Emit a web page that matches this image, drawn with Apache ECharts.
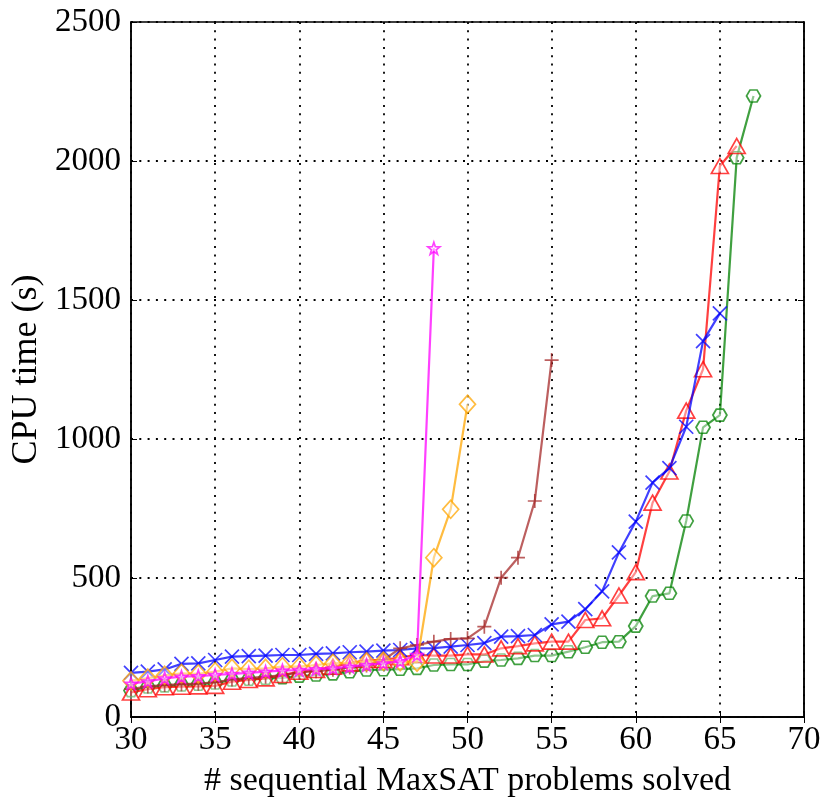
<!DOCTYPE html>
<html>
<head>
<meta charset="utf-8">
<script src="https://cdn.jsdelivr.net/npm/echarts@6/dist/echarts.min.js"></script>
<style>
  html, body { margin: 0; padding: 0; background: #fff; }
  #chart { width: 823px; height: 797px; }
</style>
</head>
<body>
<div id="chart"></div>
<script>
// Number of problems solved (x) vs cumulative CPU time (y) for six solvers
const xStart = 30;
const blueTimes = [159, 163, 171, 191, 193, 205, 217, 219, 221, 223, 223, 227, 229, 233, 235, 239, 241, 247, 248, 253, 259, 266, 289, 291, 295, 333, 343, 388, 452, 592, 703, 843, 895, 1044, 1352, 1452];
const redTimes = [88, 100, 107, 109, 110, 112, 127, 133, 139, 151, 163, 169, 181, 193, 205, 205, 215, 223, 221, 221, 225, 225, 247, 255, 265, 271, 271, 349, 355, 437, 521, 771, 883, 1102, 1251, 1982, 2054];
const greenTimes = [95, 108, 112, 115, 118, 122, 133, 136, 139, 141, 147, 151, 155, 163, 169, 170, 172, 175, 187, 189, 189, 201, 205, 211, 221, 221, 235, 251, 269, 271, 327, 435, 445, 705, 1042, 1086, 2012, 2234];
const brownTimes = [100, 110, 115, 118, 120, 125, 135, 140, 145, 150, 160, 165, 170, 178, 185, 205, 247, 259, 271, 281, 283, 325, 501, 573, 777, 1284];
const orangeTimes = [130, 140, 150, 157, 155, 163, 175, 172, 175, 181, 181, 187, 193, 195, 199, 201, 199, 197, 573, 747, 1125];
const magentaTimes = [120, 128, 139, 145, 147, 151, 155, 159, 163, 167, 169, 172, 175, 181, 187, 193, 200, 223, 1686];

const xTicks = [30, 35, 40, 45, 50, 55, 60, 65, 70];
const yTicks = [0, 500, 1000, 1500, 2000, 2500];

function toPoints(values) {
  return values.map((v, i) => [xStart + i, v]);
}

// Marker outlines
const SYM_X = 'path://M0,0 L10,10 M10,0 L0,10';
const SYM_PLUS = 'path://M5,0 L5,10 M0,5 L10,5';
const SYM_HEX = 'path://M20,10 L15,18.66 L5,18.66 L0,10 L5,1.34 L15,1.34 Z';
const SYM_STAR = 'path://M10,0 L12.35,6.76 L19.51,6.91 L13.8,11.24 L15.88,18.09 L10,14 L4.12,18.09 L6.2,11.24 L0.49,6.91 L7.65,6.76 Z';

function lineSeries(name, values, color, symbol, size, filled, z) {
  return {
    name: name,
    type: 'line',
    data: toPoints(values),
    symbol: symbol,
    symbolSize: size,
    showSymbol: true,
    z: z,
    lineStyle: { color: color, width: 2.2, opacity: 0.75 },
    itemStyle: {
      color: filled ? 'rgba(255,255,255,0.55)' : 'none',
      borderColor: color,
      borderWidth: 1.7,
      opacity: 0.75
    },
    emphasis: { disabled: true },
    animation: false
  };
}

const serif = '"Liberation Serif", "DejaVu Serif", serif';
const dotted = { color: '#000', width: 1.8, type: [2, 6.3] };
const frameLine = { show: true, lineStyle: { color: '#000', width: 1.5 } };
const innerTick = { show: true, inside: true, length: 6, lineStyle: { color: '#000', width: 1 } };

const chart = echarts.init(document.getElementById('chart'), null, { renderer: 'canvas' });
chart.setOption({
  backgroundColor: '#fff',
  animation: false,
  grid: {
    left: 131, right: 19, top: 22, bottom: 80,
    outerBoundsMode: 'none', containLabel: false,
    show: true, borderColor: '#000', borderWidth: 1.5
  },
  xAxis: [{
    type: 'value', min: 30, max: 70, interval: 5,
    name: '# sequential MaxSAT problems solved',
    nameLocation: 'middle', nameGap: 47,
    nameTextStyle: { fontFamily: serif, fontSize: 34, color: '#000' },
    axisLine: frameLine,
    axisTick: innerTick,
    axisLabel: {
      fontFamily: serif, fontSize: 33, color: '#000', margin: 7,
      formatter: v => xTicks.includes(v) ? String(v) : ''
    },
    splitLine: { show: true, lineStyle: dotted }
  }, {
    type: 'value', min: 30, max: 70, interval: 5, position: 'top',
    axisLine: frameLine,
    axisTick: innerTick,
    axisLabel: { show: false },
    splitLine: { show: false }
  }],
  yAxis: [{
    type: 'value', min: 0, max: 2500, interval: 500,
    name: 'CPU time (s)',
    nameLocation: 'middle', nameGap: 86,
    nameTextStyle: { fontFamily: serif, fontSize: 36, color: '#000' },
    axisLine: frameLine,
    axisTick: innerTick,
    axisLabel: {
      fontFamily: serif, fontSize: 33, color: '#000', margin: 10,
      formatter: v => yTicks.includes(v) ? String(v) : ''
    },
    splitLine: { show: true, lineStyle: dotted }
  }, {
    type: 'value', min: 0, max: 2500, interval: 500, position: 'right',
    axisLine: frameLine,
    axisTick: innerTick,
    axisLabel: { show: false },
    splitLine: { show: false }
  }],
  series: [
    lineSeries('green', greenTimes, '#008000', SYM_HEX, [14, 12], true, 2),
    lineSeries('red', redTimes, '#ff0000', 'triangle', [17, 15], true, 3),
    lineSeries('blue', blueTimes, '#0000ff', SYM_X, 14, false, 4),
    lineSeries('brown', brownTimes, '#a52a2a', SYM_PLUS, 14, false, 5),
    lineSeries('orange', orangeTimes, '#ffa500', 'diamond', [16, 18], true, 6),
    lineSeries('magenta', magentaTimes, '#ff00ff', SYM_STAR, 12, true, 7)
  ]
});
</script>
</body>
</html>
